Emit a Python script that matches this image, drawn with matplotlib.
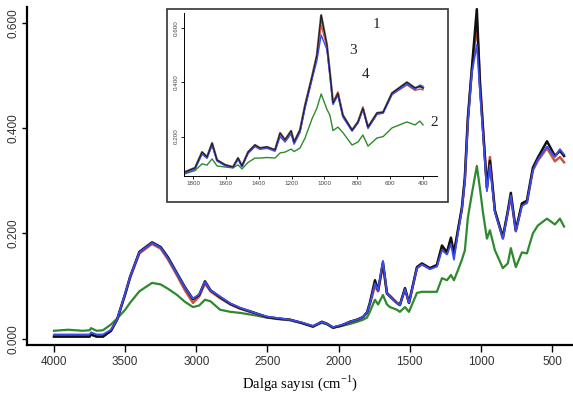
import numpy as np
import matplotlib
matplotlib.use("Agg")
import matplotlib.pyplot as plt
from matplotlib.patches import Rectangle

# main spectra (wavenumber, absorbance)
wn = np.array([4000, 3900, 3850, 3800, 3750, 3740, 3700, 3656, 3600, 3557,
               3500, 3466, 3400, 3311, 3250, 3200, 3135, 3080, 3023, 2980,
               2939, 2900, 2833, 2760, 2693, 2600, 2503, 2420, 2342, 2260,
               2180, 2117, 2080, 2039, 1980, 1920, 1870, 1828, 1800, 1780,
               1744, 1722, 1688, 1660, 1639, 1590, 1569, 1533, 1505, 1449,
               1414, 1358, 1309, 1273, 1238, 1210, 1189, 1161, 1133, 1112,
               1091, 1063, 1028, 1006, 985, 957, 936, 901, 845, 810,
               789, 754, 711, 676, 634, 599, 535, 479, 444, 415])

s1 = np.array([0.004, 0.004, 0.004, 0.004, 0.004, 0.008, 0.004, 0.004, 0.015, 0.036,
               0.085, 0.117, 0.165, 0.183, 0.174, 0.155, 0.124, 0.098, 0.075, 0.083,
               0.109, 0.092, 0.079, 0.066, 0.058, 0.050, 0.041, 0.038, 0.036, 0.030,
               0.023, 0.032, 0.028, 0.021, 0.025, 0.032, 0.036, 0.041, 0.050, 0.068,
               0.111, 0.092, 0.145, 0.087, 0.080, 0.068, 0.064, 0.096, 0.068, 0.136,
               0.143, 0.134, 0.140, 0.177, 0.164, 0.192, 0.162, 0.206, 0.249, 0.306,
               0.419, 0.513, 0.626, 0.483, 0.400, 0.287, 0.338, 0.243, 0.193, 0.243,
               0.277, 0.206, 0.257, 0.262, 0.325, 0.344, 0.375, 0.347, 0.357, 0.347])

s3 = np.array([0.004, 0.004, 0.004, 0.004, 0.004, 0.008, 0.004, 0.004, 0.015, 0.036,
               0.084, 0.115, 0.162, 0.180, 0.171, 0.151, 0.120, 0.092, 0.068, 0.080,
               0.105, 0.090, 0.077, 0.065, 0.057, 0.049, 0.041, 0.038, 0.036, 0.030,
               0.023, 0.032, 0.028, 0.021, 0.025, 0.032, 0.036, 0.041, 0.049, 0.065,
               0.100, 0.090, 0.140, 0.085, 0.082, 0.068, 0.064, 0.094, 0.068, 0.134,
               0.141, 0.133, 0.138, 0.174, 0.162, 0.188, 0.160, 0.204, 0.246, 0.303,
               0.415, 0.510, 0.600, 0.490, 0.400, 0.287, 0.345, 0.243, 0.190, 0.240,
               0.270, 0.204, 0.254, 0.258, 0.320, 0.338, 0.362, 0.337, 0.345, 0.335])

s4 = np.array([0.008, 0.008, 0.008, 0.008, 0.008, 0.012, 0.008, 0.008, 0.017, 0.036,
               0.086, 0.117, 0.164, 0.182, 0.173, 0.153, 0.123, 0.097, 0.076, 0.084,
               0.108, 0.092, 0.080, 0.067, 0.059, 0.050, 0.042, 0.039, 0.036, 0.031,
               0.024, 0.032, 0.028, 0.022, 0.026, 0.032, 0.036, 0.041, 0.050, 0.066,
               0.105, 0.092, 0.148, 0.087, 0.080, 0.068, 0.064, 0.094, 0.068, 0.134,
               0.141, 0.132, 0.137, 0.168, 0.160, 0.180, 0.150, 0.200, 0.245, 0.300,
               0.410, 0.505, 0.558, 0.470, 0.390, 0.280, 0.330, 0.240, 0.190, 0.240,
               0.272, 0.204, 0.252, 0.258, 0.320, 0.340, 0.365, 0.345, 0.360, 0.350])

s2 = np.array([0.015, 0.017, 0.016, 0.015, 0.016, 0.020, 0.015, 0.016, 0.027, 0.038,
               0.055, 0.068, 0.090, 0.106, 0.103, 0.095, 0.083, 0.070, 0.060, 0.063,
               0.074, 0.071, 0.055, 0.051, 0.049, 0.045, 0.040, 0.037, 0.035, 0.030,
               0.024, 0.030, 0.027, 0.021, 0.024, 0.028, 0.032, 0.036, 0.040, 0.051,
               0.074, 0.065, 0.083, 0.065, 0.060, 0.055, 0.051, 0.060, 0.051, 0.087,
               0.089, 0.089, 0.089, 0.115, 0.111, 0.121, 0.111, 0.130, 0.150, 0.168,
               0.230, 0.275, 0.328, 0.285, 0.240, 0.190, 0.206, 0.168, 0.134, 0.143,
               0.172, 0.136, 0.164, 0.162, 0.200, 0.215, 0.228, 0.217, 0.228, 0.213])

# inset spectra (fingerprint region)
wn_in = np.array([1849, 1788, 1745, 1715, 1684, 1654, 1605, 1557, 1526, 1502,
                  1465, 1423, 1392, 1350, 1301, 1270, 1240, 1203, 1185, 1149,
                  1118, 1076, 1046, 1020, 985, 967, 948, 918, 888, 832,
                  796, 766, 735, 680, 643, 589, 498, 449, 419, 400])

in1 = np.array([0.070, 0.085, 0.143, 0.125, 0.176, 0.114, 0.096, 0.088, 0.121, 0.092,
                0.143, 0.169, 0.158, 0.162, 0.151, 0.213, 0.188, 0.221, 0.180, 0.224,
                0.316, 0.420, 0.500, 0.647, 0.537, 0.437, 0.324, 0.360, 0.279, 0.224,
                0.254, 0.305, 0.235, 0.287, 0.290, 0.360, 0.400, 0.379, 0.385, 0.379])

in3 = np.array([0.068, 0.083, 0.138, 0.122, 0.170, 0.112, 0.095, 0.087, 0.118, 0.091,
                0.140, 0.166, 0.155, 0.160, 0.149, 0.208, 0.185, 0.216, 0.178, 0.220,
                0.312, 0.416, 0.495, 0.610, 0.530, 0.435, 0.322, 0.365, 0.276, 0.222,
                0.252, 0.310, 0.232, 0.284, 0.287, 0.355, 0.390, 0.370, 0.375, 0.372])

in4 = np.array([0.066, 0.080, 0.135, 0.120, 0.168, 0.110, 0.093, 0.085, 0.116, 0.089,
                0.138, 0.163, 0.153, 0.157, 0.146, 0.200, 0.180, 0.210, 0.172, 0.215,
                0.305, 0.410, 0.480, 0.574, 0.520, 0.425, 0.318, 0.352, 0.272, 0.220,
                0.250, 0.300, 0.230, 0.282, 0.286, 0.355, 0.393, 0.374, 0.390, 0.385])

in2 = np.array([0.063, 0.075, 0.100, 0.095, 0.118, 0.092, 0.088, 0.085, 0.096, 0.081,
                0.105, 0.121, 0.121, 0.123, 0.121, 0.140, 0.143, 0.154, 0.145, 0.158,
                0.195, 0.265, 0.305, 0.357, 0.300, 0.279, 0.222, 0.235, 0.215, 0.169,
                0.180, 0.206, 0.165, 0.195, 0.200, 0.232, 0.254, 0.243, 0.257, 0.243])

c_black = "#111111"
c_red = "#c8553d"
c_blue = "#3b4cf0"
c_green = "#2f8a2f"

W, H = 573, 394
fig = plt.figure(figsize=(W / 100, H / 100), dpi=100)

ax = fig.add_axes([27 / W, 1 - 345 / H, 1 - 27 / W, (345 - 7) / H])
ax.plot(wn, s2, color=c_green, lw=1.6)
ax.plot(wn, s3, color=c_red, lw=1.8)
ax.plot(wn, s1, color=c_black, lw=1.8)
ax.plot(wn, s4, color=c_blue, lw=1.3)
ax.set_xlim(4190, 352)
ax.set_ylim(-0.012, 0.63)
ax.set_xticks([4000, 3500, 3000, 2500, 2000, 1500, 1000, 500])
ax.set_yticks([0.0, 0.2, 0.4, 0.6])
ax.set_yticklabels(["0.000", "0.200", "0.400", "0.600"], rotation=90, va="center")
for lab in ax.get_xticklabels() + ax.get_yticklabels():
    lab.set_fontfamily("Liberation Sans")
    lab.set_fontsize(8.5)
    lab.set_color("#333333")
ax.spines["top"].set_visible(False)
ax.spines["right"].set_visible(False)
ax.spines["left"].set_linewidth(1.6)
ax.spines["bottom"].set_linewidth(1.6)
ax.tick_params(axis="x", direction="out", length=5, width=1.0, pad=3)
ax.tick_params(axis="y", direction="out", length=3.5, width=1.0, pad=2)
ax.set_xlabel("Dalga sayısı (cm$^{\\mathregular{-1}}$)", family="Liberation Serif",
              fontsize=10.5, labelpad=4)

# inset frame and axes
fig.patches.append(Rectangle((167 / W, 1 - 202 / H), 281 / W, 193 / H,
                             transform=fig.transFigure, fill=True, facecolor="white",
                             edgecolor="#333333", lw=1.2, zorder=5))
axi = fig.add_axes([184 / W, 1 - 176 / H, (437 - 184) / W, (176 - 13) / H], zorder=6)
axi.plot(wn_in, in2, color=c_green, lw=1.0)
axi.plot(wn_in, in1, color="#555555", lw=1.6)
axi.plot(wn_in, in3, color=c_red, lw=1.0)
axi.plot(wn_in, in4, color=c_blue, lw=1.0)
axi.plot(wn_in, in1, color=c_black, lw=0.6)
axi.set_xlim(1855, 315)
axi.set_ylim(0.055, 0.655)
axi.set_xticks([1800, 1600, 1400, 1200, 1000, 800, 600, 400])
axi.set_yticks([0.2, 0.4, 0.6])
axi.set_yticklabels(["0.200", "0.400", "0.600"], rotation=90, va="center")
for lab in axi.get_xticklabels() + axi.get_yticklabels():
    lab.set_fontfamily("Liberation Sans")
    lab.set_fontsize(4.5)
    lab.set_color("#444444")
axi.spines["top"].set_visible(False)
axi.spines["right"].set_visible(False)
axi.spines["left"].set_linewidth(0.7)
axi.spines["bottom"].set_linewidth(0.7)
axi.tick_params(direction="out", length=2, width=0.6, pad=1.5)

for txt, x, y in [("1", 376, 25), ("3", 353, 50), ("4", 366, 75), ("2", 434, 122)]:
    fig.text(x / W, 1 - y / H, txt, family="Liberation Serif", fontsize=11,
             color="#222222", ha="center", va="center", zorder=10)

fig.savefig("out.png", dpi=100)
